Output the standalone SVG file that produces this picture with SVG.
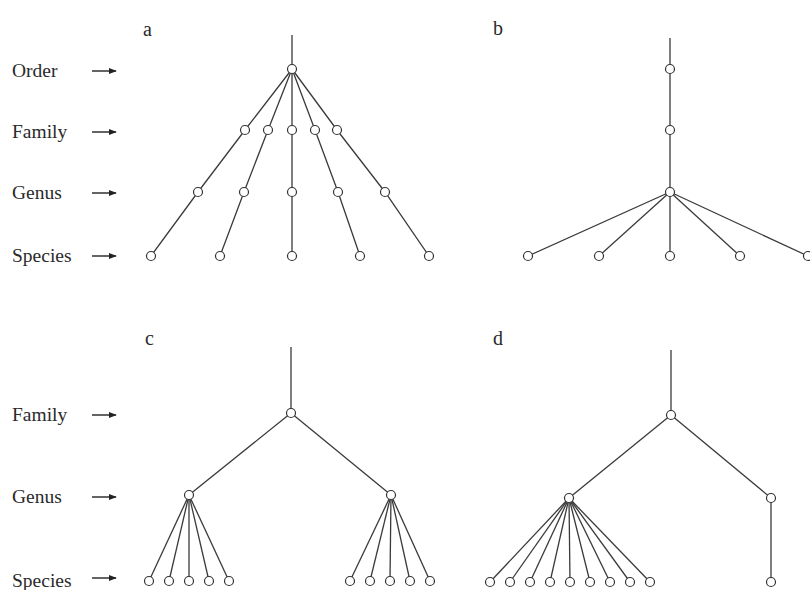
<svg xmlns="http://www.w3.org/2000/svg" width="810" height="590" viewBox="0 0 810 590">
<style>
.lbl{font-family:"Liberation Serif","Times New Roman",serif;font-size:19.5px;fill:#2a2a2a}
.pl{font-family:"Liberation Serif","Times New Roman",serif;font-size:20px;fill:#2a2a2a}
.e{stroke:#3a3a3a;stroke-width:1.3;fill:none}
.n{fill:#fff;stroke:#333;stroke-width:1.2}
.ar{stroke:#222;stroke-width:1.4;fill:none}
</style>
<defs>
<marker id="ah" viewBox="0 0 10 10" refX="9" refY="5" markerWidth="8" markerHeight="8" markerUnits="userSpaceOnUse" orient="auto">
<path d="M0,1 L10,5 L0,9 Z" fill="#222"/>
</marker>
</defs>
<rect width="810" height="590" fill="#fff"/>

<g id="labels-top">
<text class="lbl" x="12" y="77">Order</text>
<text class="lbl" x="12" y="138">Family</text>
<text class="lbl" x="12" y="199">Genus</text>
<text class="lbl" x="12" y="262">Species</text>
<line class="ar" x1="92" y1="71" x2="116" y2="71" marker-end="url(#ah)"/>
<line class="ar" x1="92" y1="132" x2="116" y2="132" marker-end="url(#ah)"/>
<line class="ar" x1="92" y1="193" x2="116" y2="193" marker-end="url(#ah)"/>
<line class="ar" x1="92" y1="256" x2="116" y2="256" marker-end="url(#ah)"/>
</g>
<g id="labels-bottom">
<text class="lbl" x="12" y="421">Family</text>
<text class="lbl" x="12" y="503">Genus</text>
<text class="lbl" x="12" y="587">Species</text>
<line class="ar" x1="92" y1="415" x2="116" y2="415" marker-end="url(#ah)"/>
<line class="ar" x1="92" y1="497" x2="116" y2="497" marker-end="url(#ah)"/>
<line class="ar" x1="92" y1="578" x2="116" y2="578" marker-end="url(#ah)"/>
</g>
<g id="panel-letters">
<text class="pl" x="143" y="36">a</text>
<text class="pl" x="493" y="35">b</text>
<text class="pl" x="145" y="345">c</text>
<text class="pl" x="493" y="345">d</text>
</g>

<g id="connectors">
<line class="e" x1="292" y1="35" x2="292" y2="69"/>
<polyline class="e" points="292,69 245,130 198,192 151,256"/>
<polyline class="e" points="292,69 268,130 244,192 220,256"/>
<polyline class="e" points="292,69 292,130 292,192 292,256"/>
<polyline class="e" points="292,69 315,130 338,192 360,256"/>
<polyline class="e" points="292,69 337,130 385,192 429,256"/>
<line class="e" x1="670" y1="38" x2="670" y2="192"/>
<line class="e" x1="670" y1="192" x2="528" y2="256"/>
<line class="e" x1="670" y1="192" x2="599" y2="256"/>
<line class="e" x1="670" y1="192" x2="670" y2="256"/>
<line class="e" x1="670" y1="192" x2="740" y2="256"/>
<line class="e" x1="670" y1="192" x2="808" y2="256"/>
<line class="e" x1="291" y1="347" x2="291" y2="413"/>
<line class="e" x1="291" y1="413" x2="189" y2="495"/>
<line class="e" x1="291" y1="413" x2="391" y2="495"/>
<line class="e" x1="189" y1="495" x2="149" y2="581"/>
<line class="e" x1="189" y1="495" x2="169" y2="581"/>
<line class="e" x1="189" y1="495" x2="189" y2="581"/>
<line class="e" x1="189" y1="495" x2="209" y2="581"/>
<line class="e" x1="189" y1="495" x2="229" y2="581"/>
<line class="e" x1="391" y1="495" x2="350" y2="581"/>
<line class="e" x1="391" y1="495" x2="370" y2="581"/>
<line class="e" x1="391" y1="495" x2="390" y2="581"/>
<line class="e" x1="391" y1="495" x2="410" y2="581"/>
<line class="e" x1="391" y1="495" x2="430" y2="581"/>
<line class="e" x1="671" y1="350" x2="671" y2="415"/>
<line class="e" x1="671" y1="415" x2="569" y2="498"/>
<line class="e" x1="671" y1="415" x2="771" y2="498"/>
<line class="e" x1="771" y1="498" x2="771" y2="582"/>
<line class="e" x1="569" y1="498" x2="490" y2="582"/>
<line class="e" x1="569" y1="498" x2="510" y2="582"/>
<line class="e" x1="569" y1="498" x2="530" y2="582"/>
<line class="e" x1="569" y1="498" x2="550" y2="582"/>
<line class="e" x1="569" y1="498" x2="570" y2="582"/>
<line class="e" x1="569" y1="498" x2="590" y2="582"/>
<line class="e" x1="569" y1="498" x2="610" y2="582"/>
<line class="e" x1="569" y1="498" x2="630" y2="582"/>
<line class="e" x1="569" y1="498" x2="650" y2="582"/>
</g>

<g id="a-order"><circle class="n" cx="292" cy="69" r="4.5"/></g>
<g id="a-family-1"><circle class="n" cx="245" cy="130" r="4.5"/></g>
<g id="a-family-2"><circle class="n" cx="268" cy="130" r="4.5"/></g>
<g id="a-family-3"><circle class="n" cx="292" cy="130" r="4.5"/></g>
<g id="a-family-4"><circle class="n" cx="315" cy="130" r="4.5"/></g>
<g id="a-family-5"><circle class="n" cx="337" cy="130" r="4.5"/></g>
<g id="a-genus-1"><circle class="n" cx="198" cy="192" r="4.5"/></g>
<g id="a-genus-2"><circle class="n" cx="244" cy="192" r="4.5"/></g>
<g id="a-genus-3"><circle class="n" cx="292" cy="192" r="4.5"/></g>
<g id="a-genus-4"><circle class="n" cx="338" cy="192" r="4.5"/></g>
<g id="a-genus-5"><circle class="n" cx="385" cy="192" r="4.5"/></g>
<g id="a-species-1"><circle class="n" cx="151" cy="256" r="4.5"/></g>
<g id="a-species-2"><circle class="n" cx="220" cy="256" r="4.5"/></g>
<g id="a-species-3"><circle class="n" cx="292" cy="256" r="4.5"/></g>
<g id="a-species-4"><circle class="n" cx="360" cy="256" r="4.5"/></g>
<g id="a-species-5"><circle class="n" cx="429" cy="256" r="4.5"/></g>

<g id="b-order"><circle class="n" cx="670" cy="69" r="4.5"/></g>
<g id="b-family"><circle class="n" cx="670" cy="130" r="4.5"/></g>
<g id="b-genus"><circle class="n" cx="670" cy="192" r="4.5"/></g>
<g id="b-species-1"><circle class="n" cx="528" cy="256" r="4.5"/></g>
<g id="b-species-2"><circle class="n" cx="599" cy="256" r="4.5"/></g>
<g id="b-species-3"><circle class="n" cx="670" cy="256" r="4.5"/></g>
<g id="b-species-4"><circle class="n" cx="740" cy="256" r="4.5"/></g>
<g id="b-species-5"><circle class="n" cx="808" cy="256" r="4.5"/></g>

<g id="c-family"><circle class="n" cx="291" cy="413" r="4.5"/></g>
<g id="c-genus-1"><circle class="n" cx="189" cy="495" r="4.5"/></g>
<g id="c-genus-2"><circle class="n" cx="391" cy="495" r="4.5"/></g>
<g id="c-species-1"><circle class="n" cx="149" cy="581" r="4.5"/></g>
<g id="c-species-2"><circle class="n" cx="169" cy="581" r="4.5"/></g>
<g id="c-species-3"><circle class="n" cx="189" cy="581" r="4.5"/></g>
<g id="c-species-4"><circle class="n" cx="209" cy="581" r="4.5"/></g>
<g id="c-species-5"><circle class="n" cx="229" cy="581" r="4.5"/></g>
<g id="c-species-6"><circle class="n" cx="350" cy="581" r="4.5"/></g>
<g id="c-species-7"><circle class="n" cx="370" cy="581" r="4.5"/></g>
<g id="c-species-8"><circle class="n" cx="390" cy="581" r="4.5"/></g>
<g id="c-species-9"><circle class="n" cx="410" cy="581" r="4.5"/></g>
<g id="c-species-10"><circle class="n" cx="430" cy="581" r="4.5"/></g>

<g id="d-family"><circle class="n" cx="671" cy="415" r="4.5"/></g>
<g id="d-genus-1"><circle class="n" cx="569" cy="498" r="4.5"/></g>
<g id="d-genus-2"><circle class="n" cx="771" cy="498" r="4.5"/></g>
<g id="d-species-1"><circle class="n" cx="490" cy="582" r="4.5"/></g>
<g id="d-species-2"><circle class="n" cx="510" cy="582" r="4.5"/></g>
<g id="d-species-3"><circle class="n" cx="530" cy="582" r="4.5"/></g>
<g id="d-species-4"><circle class="n" cx="550" cy="582" r="4.5"/></g>
<g id="d-species-5"><circle class="n" cx="570" cy="582" r="4.5"/></g>
<g id="d-species-6"><circle class="n" cx="590" cy="582" r="4.5"/></g>
<g id="d-species-7"><circle class="n" cx="610" cy="582" r="4.5"/></g>
<g id="d-species-8"><circle class="n" cx="630" cy="582" r="4.5"/></g>
<g id="d-species-9"><circle class="n" cx="650" cy="582" r="4.5"/></g>
<g id="d-species-10"><circle class="n" cx="771" cy="582" r="4.5"/></g>
</svg>
